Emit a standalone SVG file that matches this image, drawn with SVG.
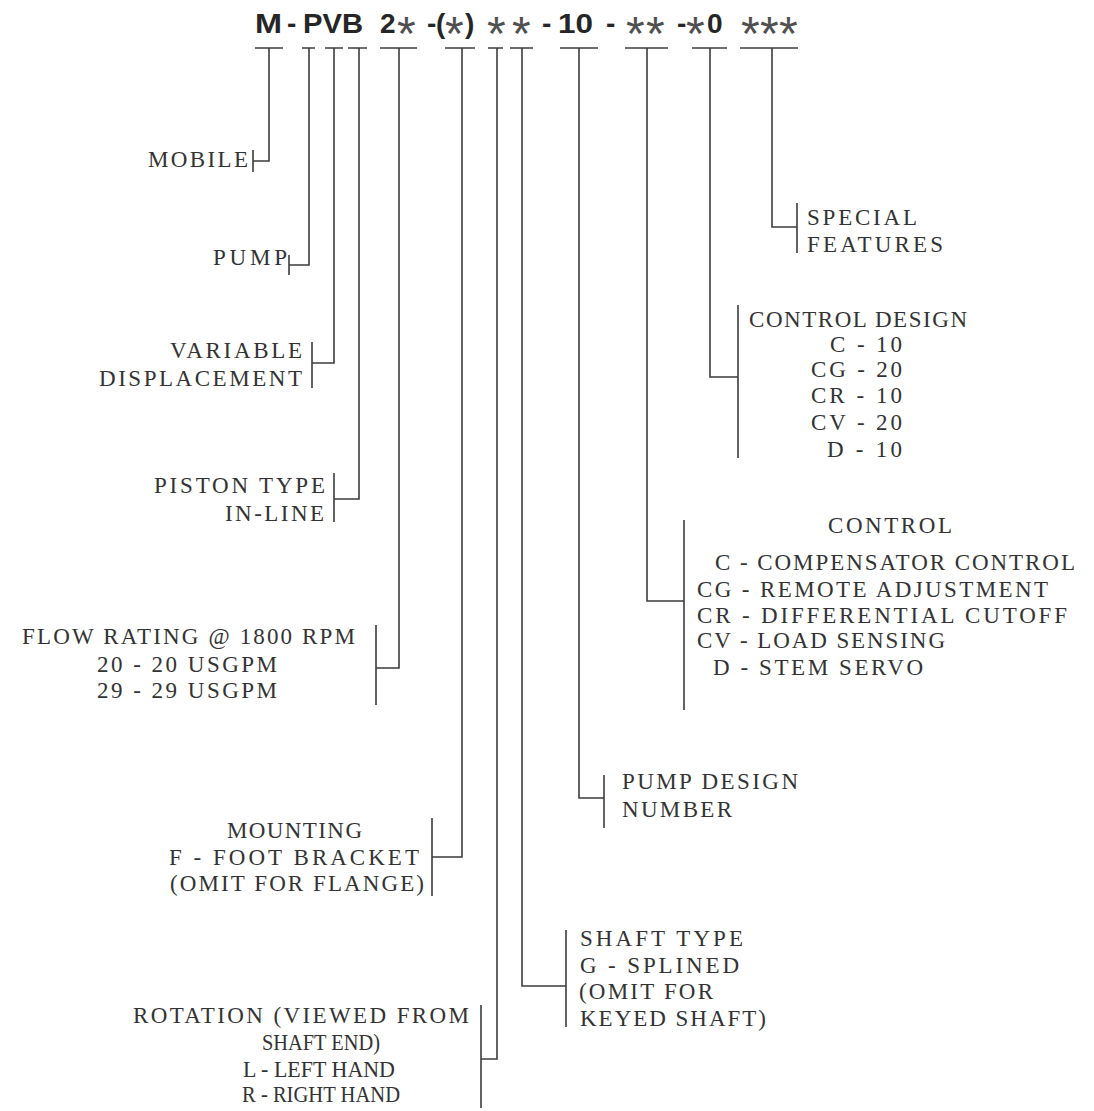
<svg xmlns="http://www.w3.org/2000/svg" width="1094" height="1111" viewBox="0 0 1094 1111">
<style>
.code{font-family:"Liberation Sans",Arial,sans-serif;font-weight:bold;font-size:28px;fill:#262626}
.ast{font-family:"Liberation Sans",Arial,sans-serif;font-size:48px;fill:#505050}
.t{font-family:"Liberation Serif","Times New Roman",serif;font-size:23px;fill:#333}
.ln{stroke:#3c3c3c;stroke-width:1.6;fill:none}
</style>
<rect width="1094" height="1111" fill="#fff"/>
<g id="code">
<text class="code" x="255" y="33" textLength="27" lengthAdjust="spacingAndGlyphs">M</text>
<text class="code" x="287" y="33">-</text>
<text class="code" x="303" y="33" textLength="60" lengthAdjust="spacingAndGlyphs">PVB</text>
<text class="code" x="380" y="33">2</text>
<text class="ast" x="397" y="50">*</text>
<text class="code" x="427" y="33">-</text>
<text class="code" x="436" y="33">(</text>
<text class="ast" x="445" y="50">*</text>
<text class="code" x="465" y="33">)</text>
<text class="ast" x="487" y="50">*</text>
<text class="ast" x="512" y="50">*</text>
<text class="code" x="542" y="33">-</text>
<text class="code" x="558" y="33" textLength="35" lengthAdjust="spacingAndGlyphs">10</text>
<text class="code" x="606" y="33">-</text>
<text class="ast" x="626" y="50">*</text>
<text class="ast" x="646" y="50">*</text>
<text class="code" x="677" y="33">-</text>
<text class="ast" x="686" y="50">*</text>
<text class="code" x="707" y="33">0</text>
<text class="ast" x="741" y="50">*</text>
<text class="ast" x="760" y="50">*</text>
<text class="ast" x="779" y="50">*</text>
</g>
<g id="connectors">
<path class="ln" d="M255 48H283M302 48H315M325 48H343M348 48H367M380 48H417M445 48H475M488 48H503M510 48H533M560 48H598M625 48H668M692 48H727M740 48H798"/>
<path class="ln" d="M269 48V161H253M253 150V172"/>
<path class="ln" d="M309 48V265H289M289 255V275"/>
<path class="ln" d="M334 48V363H312M312 342V388"/>
<path class="ln" d="M359 48V499H334M334 473V522"/>
<path class="ln" d="M399 48V668H376M376 625V705"/>
<path class="ln" d="M462 48V857H432M432 818V896"/>
<path class="ln" d="M497 48V1059H481M481 1005V1108"/>
<path class="ln" d="M522 48V986H566M566 930V1027"/>
<path class="ln" d="M579 48V798H604M604 775V828"/>
<path class="ln" d="M647 48V601H684M684 520V710"/>
<path class="ln" d="M710 48V377H738M738 305V458"/>
<path class="ln" d="M772 48V227H797M797 203V253"/>
</g>
<g id="mobile"><text class="t" x="148" y="167" textLength="100">MOBILE</text></g>
<g id="pump"><text class="t" x="213" y="265" textLength="74">PUMP</text></g>
<g id="variable">
<text class="t" x="170" y="358" textLength="132">VARIABLE</text>
<text class="t" x="99" y="386" textLength="203">DISPLACEMENT</text>
</g>
<g id="piston">
<text class="t" x="154" y="493" textLength="171">PISTON TYPE</text>
<text class="t" x="225" y="521" textLength="99">IN-LINE</text>
</g>
<g id="flow">
<text class="t" x="22" y="644" textLength="333">FLOW RATING @ 1800 RPM</text>
<text class="t" x="97" y="672" textLength="180">20 - 20 USGPM</text>
<text class="t" x="97" y="698" textLength="180">29 - 29 USGPM</text>
</g>
<g id="mounting">
<text class="t" x="227" y="838" textLength="135">MOUNTING</text>
<text class="t" x="169" y="865" textLength="250">F - FOOT BRACKET</text>
<text class="t" x="170" y="891" textLength="254">(OMIT FOR FLANGE)</text>
</g>
<g id="rotation">
<text class="t" x="133" y="1023" textLength="336">ROTATION (VIEWED FROM</text>
<text class="t" x="262" y="1050" textLength="118" lengthAdjust="spacingAndGlyphs">SHAFT END)</text>
<text class="t" x="243" y="1077" textLength="152" lengthAdjust="spacingAndGlyphs">L - LEFT HAND</text>
<text class="t" x="242" y="1102" textLength="158" lengthAdjust="spacingAndGlyphs">R - RIGHT HAND</text>
</g>
<g id="shaft">
<text class="t" x="580" y="946" textLength="163">SHAFT TYPE</text>
<text class="t" x="580" y="973" textLength="159">G - SPLINED</text>
<text class="t" x="579" y="999" textLength="134">(OMIT FOR</text>
<text class="t" x="580" y="1026" textLength="186">KEYED SHAFT)</text>
</g>
<g id="design-number">
<text class="t" x="622" y="789" textLength="176">PUMP DESIGN</text>
<text class="t" x="622" y="817" textLength="110">NUMBER</text>
</g>
<g id="control">
<text class="t" x="828" y="533" textLength="124">CONTROL</text>
<text class="t" x="715" y="570" textLength="360">C - COMPENSATOR CONTROL</text>
<text class="t" x="697" y="597" textLength="351">CG - REMOTE ADJUSTMENT</text>
<text class="t" x="697" y="623" textLength="370">CR - DIFFERENTIAL CUTOFF</text>
<text class="t" x="697" y="648" textLength="248">CV - LOAD SENSING</text>
<text class="t" x="713" y="675" textLength="210">D - STEM SERVO</text>
</g>
<g id="control-design">
<text class="t" x="749" y="327" textLength="218">CONTROL DESIGN</text>
<text class="t" x="830" y="352" textLength="72">C - 10</text>
<text class="t" x="811" y="377" textLength="91">CG - 20</text>
<text class="t" x="811" y="403" textLength="91">CR - 10</text>
<text class="t" x="811" y="430" textLength="91">CV - 20</text>
<text class="t" x="827" y="457" textLength="75">D - 10</text>
</g>
<g id="special">
<text class="t" x="807" y="225" textLength="110">SPECIAL</text>
<text class="t" x="807" y="252" textLength="136">FEATURES</text>
</g>
</svg>
